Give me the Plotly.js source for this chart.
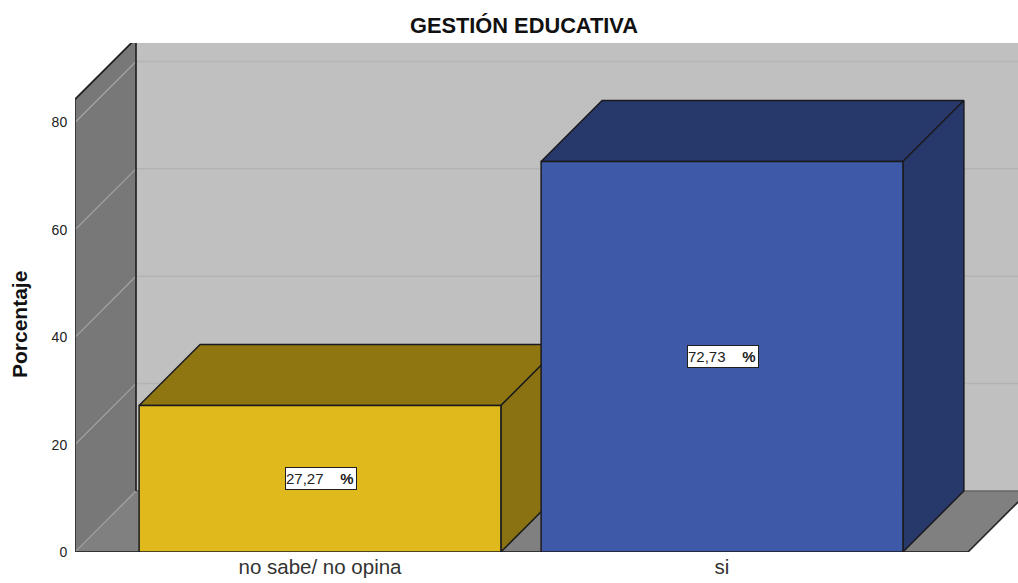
<!DOCTYPE html>
<html>
<head>
<meta charset="utf-8">
<script src="https://cdn.plot.ly/plotly-3.0.1.min.js"></script>
<style>html,body{margin:0;padding:0;background:#fff}</style>
</head>
<body>
<div id="chart" style="width:1018px;height:583px"></div>
<script>
// Data
const categories = ["no sabe/ no opina", "si"];
const percentages = [27.27, 72.73];
const valueLabels = ["27,27", "72,73"];
const yTicks = [0, 20, 40, 60, 80];

// Colours
const frontColors = ["#e0ba1c", "#3e59a8"];
const topColors = ["#8f7610", "#27396b"];
const sideColors = ["#8a7212", "#27396b"];

// 3-D projection, in axis units
const barWidth = 0.9;
const depthX = 0.1517;
const depthY = 11.36;
const xMin = -0.6095, xMax = 1.7363, yMax = 94.8;
const floorEnd = 1.612;
const wallFrontTop = 84.3;
const edge = "#1b1b1f";

function poly(xs, ys, fill, line, width) {
  return {type: "scatter", mode: line ? "lines" : "none", x: xs.concat(xs[0]), y: ys.concat(ys[0]),
    fill: "toself", fillcolor: fill, line: {color: line || fill, width: width || 0},
    hoverinfo: "skip", showlegend: false};
}
function seg(xs, ys, color, width, unclipped) {
  return {type: "scatter", mode: "lines", x: xs, y: ys, line: {color: color, width: width},
    cliponaxis: !unclipped, hoverinfo: "skip", showlegend: false};
}

const backX = xMin + depthX;
const traces = [];
// back wall
traces.push(poly([backX, xMax + 1, xMax + 1, backX], [depthY, depthY, yMax + 20, yMax + 20], "#c0c0c0"));
// back wall gridlines
yTicks.slice(1).forEach(t => traces.push(seg([backX, xMax + 1], [t + depthY, t + depthY], "#b3b3b3", 1.5)));
// left wall
traces.push(poly([xMin, backX, backX, xMin], [0, depthY, wallFrontTop + depthY, wallFrontTop], "#787878"));
// floor
traces.push(poly([xMin, floorEnd, floorEnd + depthX, backX], [0, 0, depthY, depthY], "#808080"));
traces.push(seg([backX, xMax + 1], [depthY, depthY], "#666666", 1.5));
// left wall gridlines
yTicks.slice(1).forEach(t => traces.push(seg([xMin, backX], [t, t + depthY], "#a3a3a3", 1.2)));
traces.push(seg([xMin, backX], [0, depthY], "#a3a3a3", 1.2));
// wall and floor edges
traces.push(seg([xMin, backX], [wallFrontTop, wallFrontTop + depthY], "#222222", 1.8));
traces.push(seg([backX, backX], [depthY, yMax + 20], "#2a2a2a", 1.8));
traces.push(seg([xMin, xMin], [0, wallFrontTop], "#3a3a3a", 2, true));
traces.push(seg([xMin - 0.006, floorEnd], [0, 0], "#333333", 2, true));
traces.push(seg([floorEnd, floorEnd + depthX], [0, depthY], "#222222", 1.6));
// bar top and side faces
percentages.forEach((v, i) => {
  const l = i - barWidth / 2, r = i + barWidth / 2;
  traces.push(poly([l, r, r + depthX, l + depthX], [v, v, v + depthY, v + depthY], topColors[i], edge, 1.5));
  traces.push(poly([r, r + depthX, r + depthX, r], [0, depthY, v + depthY, v], sideColors[i], edge, 1.5));
});
// bar front faces, on an overlaid copy of the axes so they sit above the faces behind them
traces.push({type: "bar", x: categories.map((c, i) => i), y: percentages, width: barWidth,
  xaxis: "x2", yaxis: "y2",
  marker: {color: frontColors, line: {color: edge, width: 1.5}},
  hoverinfo: "skip", showlegend: false});

const annotations = percentages.map((v, i) => ({
  xref: "x2", yref: "y2", x: i, y: v / 2, xshift: 1,
  text: valueLabels[i] + "\u00a0\u00a0\u00a0\u00a0<b>%</b>",
  showarrow: false, width: 70, height: 21, align: "left", valign: "middle",
  bgcolor: "#ffffff", bordercolor: "#1f1f1f", borderwidth: 1, borderpad: 0,
  font: {family: "Liberation Sans, Arial, sans-serif", size: 15, color: "#222222"}
}));
annotations.push({
  xref: "paper", yref: "paper", x: (19 - 75) / 943, y: (552 - 325) / 509,
  text: "<b>Porcentaje</b>", textangle: -90, showarrow: false,
  xanchor: "center", yanchor: "middle",
  font: {family: "Liberation Sans, Arial, sans-serif", size: 21, color: "#111111"}
});

const layout = {
  width: 1018, height: 583,
  margin: {l: 75, r: 0, t: 43, b: 31, pad: 0},
  paper_bgcolor: "#ffffff", plot_bgcolor: "#ffffff",
  showlegend: false,
  font: {family: "Liberation Sans, Arial, sans-serif", color: "#222222"},
  title: {text: "<b>GESTIÓN EDUCATIVA</b>", x: 524 / 1018, xref: "container", xanchor: "center",
    y: 1 - 25 / 583, yref: "container", yanchor: "middle",
    font: {family: "Liberation Sans, Arial, sans-serif", size: 21.8, color: "#111111"}},
  xaxis: {range: [xMin, xMax], tickmode: "array", tickvals: categories.map((c, i) => i), ticktext: categories,
    showgrid: false, zeroline: false, showline: false, ticks: "", 
    tickfont: {size: 20.5, color: "#333333"}, fixedrange: true},
  yaxis: {range: [0, yMax], tickmode: "array", tickvals: yTicks, ticktext: yTicks.map(String),
    showgrid: false, zeroline: false, showline: false, ticks: "outside", ticklen: 4, tickcolor: "rgba(0,0,0,0)",
    tickfont: {size: 14, color: "#222222"}, fixedrange: true},
  xaxis2: {range: [xMin, xMax], overlaying: "x", visible: false, fixedrange: true},
  yaxis2: {range: [0, yMax], overlaying: "y", visible: false, fixedrange: true},
  annotations: annotations
};
Plotly.newPlot("chart", traces, layout, {displayModeBar: false, staticPlot: true});
</script>
</body>
</html>
